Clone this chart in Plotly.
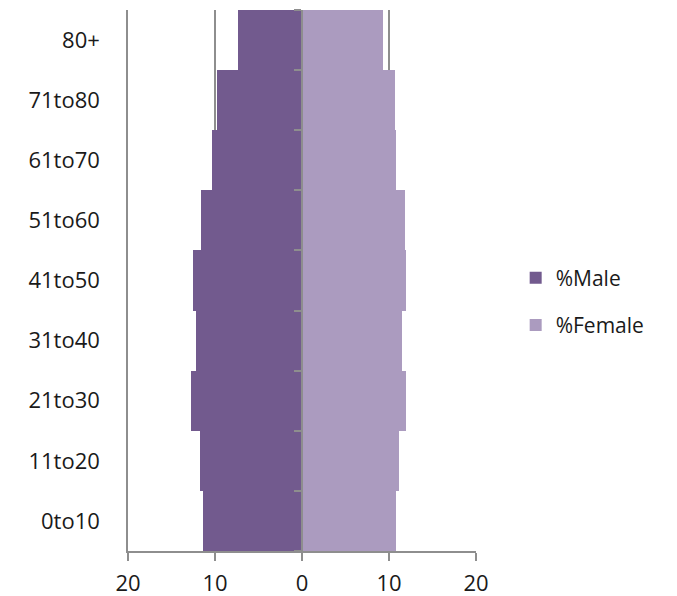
import numpy as np
import plotly.graph_objects as go

age_groups = ["0to10", "11to20", "21to30", "31to40", "41to50", "51to60", "61to70", "71to80", "80+"]
male_pct = [11.4, 11.7, 12.8, 12.2, 12.5, 11.6, 10.3, 9.8, 7.4]
female_pct = [10.8, 11.1, 12.0, 11.5, 11.95, 11.85, 10.8, 10.7, 9.3]
x_ticks = [-20, -10, 0, 10, 20]
x_tick_labels = ["20", "10", "0", "10", "20"]

MALE_COLOR = "#725A8E"
FEMALE_COLOR = "#AB9BBF"
GRID = "#8E8E8E"
FONT = "Open Sans"

fig = go.Figure()
fig.add_trace(go.Bar(
    y=age_groups, x=[-v for v in male_pct], orientation="h", name="%Male",
    marker=dict(color=MALE_COLOR, line=dict(width=0)),
    customdata=male_pct, hovertemplate="%{y}: %{customdata}<extra>%Male</extra>",
    legendgroup="m",
))
fig.add_trace(go.Bar(
    y=age_groups, x=female_pct, orientation="h", name="%Female",
    marker=dict(color=FEMALE_COLOR, line=dict(width=0)),
    hovertemplate="%{y}: %{x}<extra>%Female</extra>",
    legendgroup="f",
))
# invisible helper trace so the centre axis (with boundary ticks) is drawn
fig.add_trace(go.Scatter(x=[0], y=[0], yaxis="y2", mode="markers",
                         marker=dict(opacity=0), showlegend=False, hoverinfo="skip"))

n = len(age_groups)
fig.update_layout(
    width=677, height=596,
    margin=dict(l=128, r=201, t=10, b=45, autoexpand=False),
    paper_bgcolor="white", plot_bgcolor="white",
    barmode="relative", bargap=0,
    font=dict(family=FONT, size=22, color="#1a1a1a"),
    showlegend=True,
    legend=dict(x=1.114, xanchor="left", y=0.461, yanchor="middle",
                font=dict(size=21), tracegroupgap=17, bgcolor="rgba(0,0,0,0)"),
    xaxis=dict(range=[-20, 20], tickvals=x_ticks, ticktext=x_tick_labels,
               showgrid=True, gridcolor=GRID, gridwidth=1.5,
               zeroline=False, showline=True, linecolor=GRID, linewidth=1.5,
               ticks="outside", ticklen=8, tickcolor=GRID, tickwidth=1.5,
               ticklabelstandoff=4, automargin=False,
               tickfont=dict(size=22), fixedrange=True),
    yaxis=dict(type="category", categoryorder="array", categoryarray=age_groups,
               range=[-0.5, n - 0.5], showgrid=False, zeroline=False,
               showline=True, linecolor=GRID, linewidth=1.5, ticks="",
               automargin=False,
               ticklabelstandoff=22, tickfont=dict(size=22)),
    yaxis2=dict(overlaying="y", anchor="free", position=0.5, side="left",
                range=[-0.5, n - 0.5], tickvals=list(np.arange(n + 1) - 0.5),
                showticklabels=False, showgrid=False, zeroline=False,
                showline=True, linecolor=GRID, linewidth=2, automargin=False,
                ticks="outside", ticklen=7, tickcolor=GRID, tickwidth=1.5),
)

# remove the browser's default 8px body margin so the figure fills the window
fig.write_html("out.html",
               config={"displayModeBar": False},
               post_script="document.body.style.margin='0';document.body.style.overflow='hidden';")
